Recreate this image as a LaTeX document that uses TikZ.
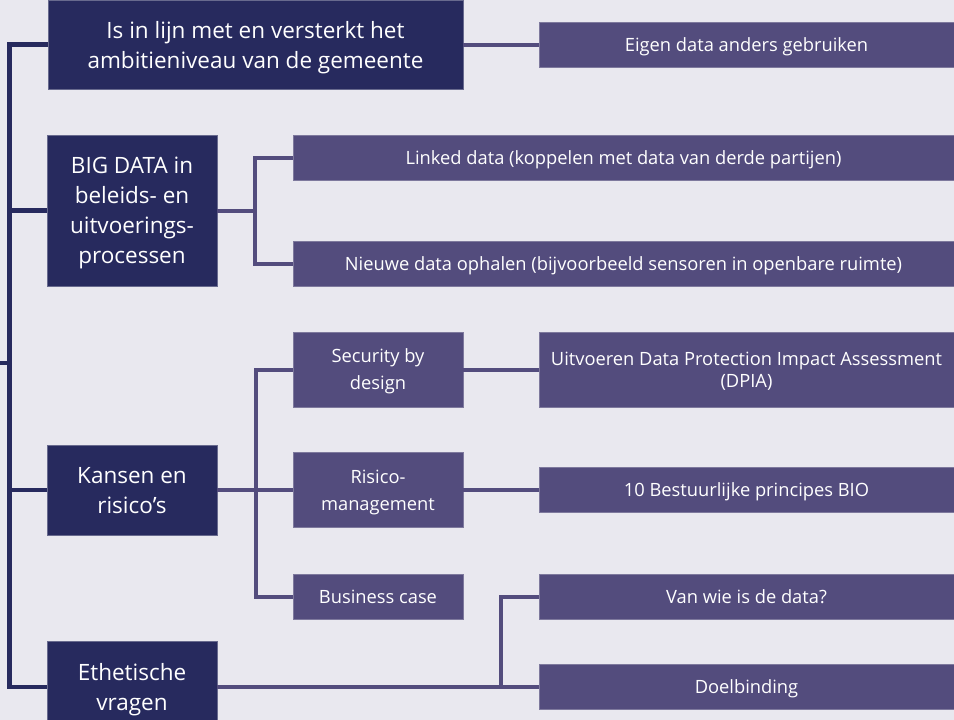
\documentclass[tikz,border=0pt]{standalone}
\usepackage{fontspec}
\setmainfont{Open Sans}
\definecolor{bg}{HTML}{E9E8EF}
\definecolor{navy}{HTML}{272A5E}
\definecolor{lila}{HTML}{534C7D}
\tikzset{
  mainbox/.style={fill=navy, draw=navy!70!white, line width=0.6pt, text=white, align=center, inner sep=0pt,
    text depth=0pt, font=\fontsize{22.5}{30}\selectfont},
  subbox/.style={fill=lila, draw=lila!75!white, line width=0.6pt, text=white, align=center, inner sep=0pt,
    text depth=0pt, font=\fontsize{18.3}{27}\selectfont},
  spine/.style={draw=navy, line width=4.5pt},
  branch/.style={draw=lila, line width=4pt},
}
\begin{document}
\begin{tikzpicture}[x=1pt,y=-1pt]
\fill[bg] (0,0) rectangle (954,720);
\useasboundingbox (0,0) rectangle (954,720);
\clip (0,0) rectangle (954,720);
% main boxes
\node[mainbox, minimum width=415pt, minimum height=89pt] (A) at (255.5,44.5) {Is in lijn met en versterkt het\\ambitieniveau van de gemeente};
\node[mainbox, minimum width=170pt, minimum height=151pt] (B) at (132,210.5) {BIG DATA in\\beleids- en\\uitvoerings-\\processen};
\node[mainbox, minimum width=170pt, minimum height=90pt] (C) at (132,490) {Kansen en\\risico’s};
\node[mainbox, minimum width=170pt, minimum height=92pt] (D) at (132,687) {Ethetische\\vragen};
% sub boxes
\node[subbox, minimum width=415pt, minimum height=45pt] (E) at (746.5,44.5) {Eigen data anders gebruiken};
\node[subbox, minimum width=661pt, minimum height=45pt] (L) at (623.5,157.5) {Linked data (koppelen met data van derde partijen)};
\node[subbox, minimum width=661pt, minimum height=45pt] (N) at (623.5,263.5) {Nieuwe data ophalen (bijvoorbeeld sensoren in openbare ruimte)};
\node[subbox, minimum width=170pt, minimum height=75pt] (S) at (378,369.5) {Security by\\design};
\node[subbox, minimum width=170pt, minimum height=75pt] (R) at (378,490) {Risico-\\management};
\node[subbox, minimum width=170pt, minimum height=45pt] (Bc) at (378,596.5) {Business case};
\node[subbox, minimum width=415pt, minimum height=75pt, font=\fontsize{18.3}{22}\selectfont] (P) at (746.5,369.5) {Uitvoeren Data Protection Impact Assessment\\(DPIA)};
\node[subbox, minimum width=415pt, minimum height=45pt] (BIO) at (746.5,490) {10 Bestuurlijke principes BIO};
\node[subbox, minimum width=415pt, minimum height=45pt] (V) at (746.5,596.5) {Van wie is de data?};
\node[subbox, minimum width=415pt, minimum height=45pt] (Do) at (746.5,687) {Doelbinding};
% junction coordinates
\coordinate (spx) at (9.5,0);
\coordinate (root) at (0,363);
\coordinate (bj) at (255,0);
\coordinate (cj) at (256,0);
\coordinate (dj) at (500.5,0);
% spine
\draw[spine] (A.west) -| (spx |- D.west) -- (D.west);
\draw[spine] (B.west) -- (spx |- B.west);
\draw[spine] (C.west) -- (spx |- C.west);
\draw[spine] (root) -- (spx |- root);
% branches
\draw[branch] (A.east) -- (E.west);
\draw[branch] (B.east) -- (bj |- B.east);
\draw[branch] (L.west) -| (bj |- N.west) -- (N.west);
\draw[branch] (C.east) -- (R.west);
\draw[branch] (S.west) -| (cj |- Bc.west) -- (Bc.west);
\draw[branch] (S.east) -- (P.west);
\draw[branch] (R.east) -- (BIO.west);
\draw[branch] (D.east) -- (Do.west);
\draw[branch] (V.west) -| (dj |- Do.west);
\end{tikzpicture}
\end{document}
